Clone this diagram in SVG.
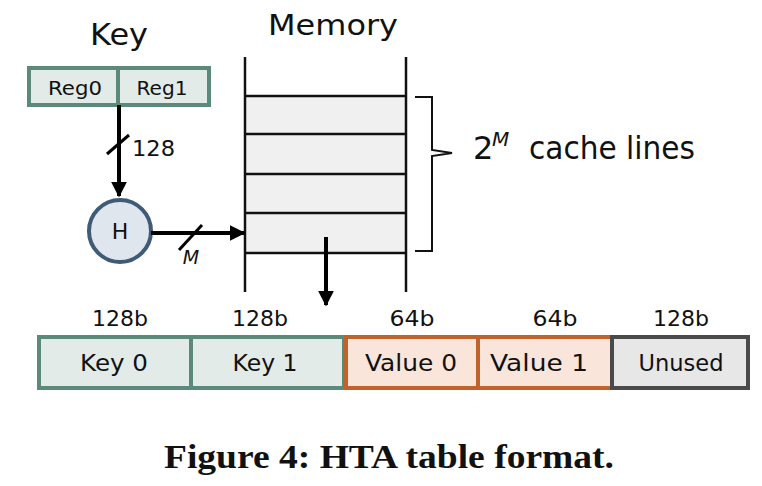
<svg xmlns="http://www.w3.org/2000/svg" width="762" height="486" viewBox="0 0 762 486">
<style>
text{font-family:"DejaVu Sans","Liberation Sans",sans-serif;fill:#111;text-anchor:middle}
.key{fill:#e3ebe8;stroke:#5b8a7a;stroke-width:4}
.val{fill:#f9e5da;stroke:#c0622b;stroke-width:4}
.unu{fill:#e8e7e8;stroke:#4a4a4a;stroke-width:4}
.ln{stroke:#111;stroke-width:2.5;fill:none}
.ar{stroke:#000;stroke-width:4;fill:none}
.lbl{font-size:21px}
.cell{font-size:23px}
</style>
<defs>
<marker id="ah" viewBox="0 0 10 10" refX="9" refY="5" markerWidth="4" markerHeight="4" orient="auto" markerUnits="strokeWidth">
<path d="M0,0 L10,5 L0,10 z" fill="#000"/>
</marker>
</defs>
<text x="119" y="45" font-size="30" textLength="58" lengthAdjust="spacingAndGlyphs">Key</text>
<text x="333" y="35" font-size="28" textLength="130" lengthAdjust="spacingAndGlyphs">Memory</text>
<g id="reg">
<rect x="29" y="68" width="180" height="37" class="key"/>
<line x1="118" y1="68" x2="118" y2="105" stroke="#5b8a7a" stroke-width="4"/>
<text x="75" y="95" font-size="19" textLength="54" lengthAdjust="spacingAndGlyphs">Reg0</text>
<text x="162" y="95" font-size="19" textLength="51" lengthAdjust="spacingAndGlyphs">Reg1</text>
</g>
<g id="hash">
<circle cx="120" cy="231" r="31" fill="#dfe6ee" stroke="#3f5b75" stroke-width="4"/>
<text x="120" y="239" font-size="22">H</text>
</g>
<g id="memory">
<rect x="245" y="96" width="160" height="157" fill="#f0f0f0"/>
<line x1="245" y1="57" x2="245" y2="292" class="ln"/>
<line x1="406" y1="57" x2="406" y2="292" class="ln"/>
<line x1="245" y1="96" x2="406" y2="96" class="ln"/>
<line x1="245" y1="134" x2="406" y2="134" class="ln"/>
<line x1="245" y1="174" x2="406" y2="174" class="ln"/>
<line x1="245" y1="213" x2="406" y2="213" class="ln"/>
<line x1="245" y1="253" x2="406" y2="253" class="ln"/>
<path d="M415,97 L432,97 L432,150 L452,153 L432,156 L432,251 L415,251" fill="none" stroke="#111" stroke-width="2"/>
<text x="473" y="159" font-size="32" style="text-anchor:start">2</text>
<text x="492" y="146" font-size="20" font-style="italic" style="text-anchor:start">M</text>
<text x="529" y="159" font-size="32" style="text-anchor:start" textLength="166" lengthAdjust="spacingAndGlyphs">cache lines</text>
</g>
<g id="connectors">
<line x1="119" y1="105" x2="119" y2="196" class="ar" marker-end="url(#ah)"/>
<line x1="107" y1="154" x2="129" y2="135" stroke="#000" stroke-width="3"/>
<text x="132" y="156" class="lbl" style="text-anchor:start" textLength="43" lengthAdjust="spacingAndGlyphs">128</text>
<line x1="151" y1="233" x2="244" y2="233" class="ar" marker-end="url(#ah)"/>
<line x1="179" y1="250" x2="202" y2="225" stroke="#000" stroke-width="3"/>
<text x="191" y="264" font-size="19" font-style="italic">M</text>
<line x1="326" y1="237" x2="326" y2="305" class="ar" marker-end="url(#ah)"/>
</g>
<g id="row">
<rect x="39" y="337" width="152" height="51" class="key"/>
<rect x="191" y="337" width="153" height="51" class="key"/>
<rect x="346" y="337" width="132" height="51" class="val"/>
<rect x="478" y="337" width="134" height="51" class="val"/>
<rect x="612" y="337" width="136" height="51" class="unu"/>
<text x="114" y="371" class="cell" textLength="68" lengthAdjust="spacingAndGlyphs">Key 0</text>
<text x="265" y="371" class="cell" textLength="65" lengthAdjust="spacingAndGlyphs">Key 1</text>
<text x="411" y="371" class="cell" textLength="92" lengthAdjust="spacingAndGlyphs">Value 0</text>
<text x="539" y="371" class="cell" textLength="98" lengthAdjust="spacingAndGlyphs">Value 1</text>
<text x="681" y="371" class="cell" textLength="85" lengthAdjust="spacingAndGlyphs">Unused</text>
<text x="120" y="326" class="lbl" textLength="56" lengthAdjust="spacingAndGlyphs">128b</text>
<text x="260" y="326" class="lbl" textLength="56" lengthAdjust="spacingAndGlyphs">128b</text>
<text x="412" y="326" class="lbl" textLength="45" lengthAdjust="spacingAndGlyphs">64b</text>
<text x="555" y="326" class="lbl" textLength="45" lengthAdjust="spacingAndGlyphs">64b</text>
<text x="681" y="326" class="lbl" textLength="56" lengthAdjust="spacingAndGlyphs">128b</text>
</g>
<text x="389" y="468" font-size="33" font-weight="bold" textLength="450" lengthAdjust="spacingAndGlyphs" style="font-family:'Liberation Serif','DejaVu Serif',serif">Figure 4: HTA table format.</text>
</svg>
